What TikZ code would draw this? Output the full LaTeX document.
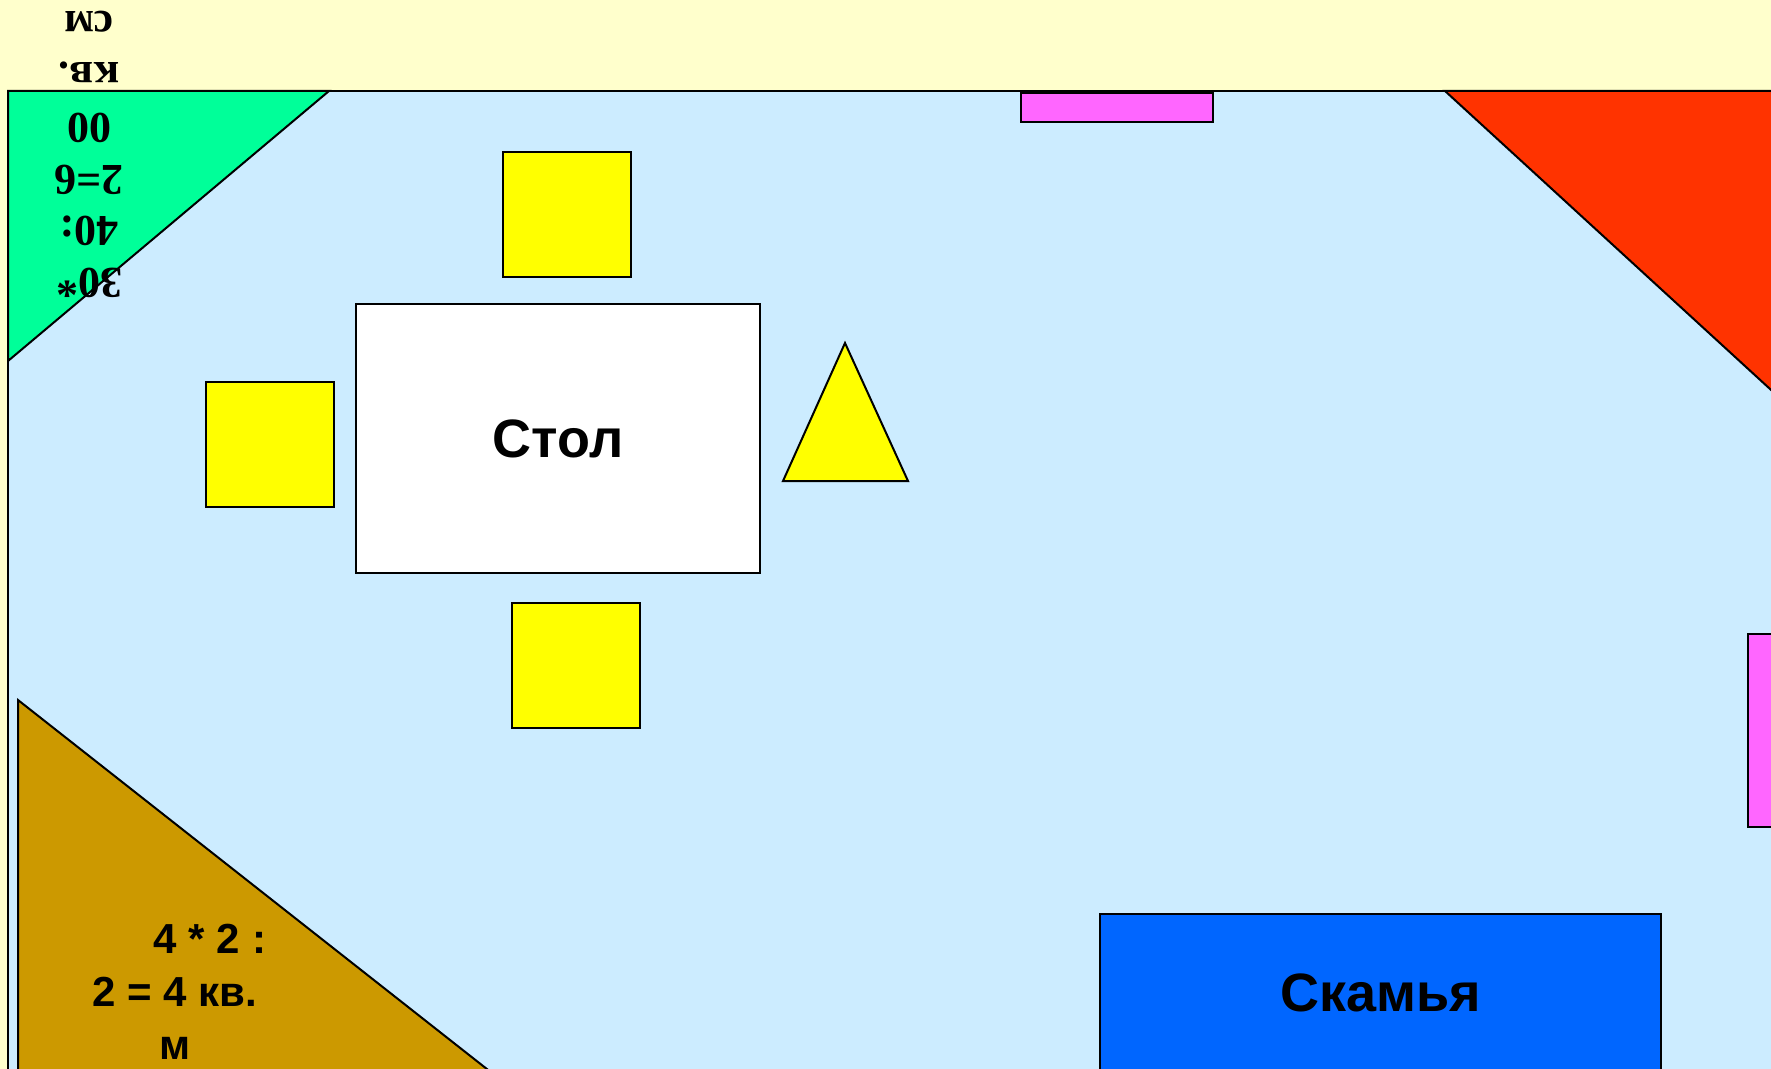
\documentclass[tikz,border=0pt]{standalone}
\usepackage{fontspec}
\setmainfont{Liberation Sans}
\newfontfamily\sansb{Liberation Sans Bold}
\newfontfamily\serifb{Liberation Serif Bold}
\definecolor{bgyellow}{HTML}{FFFFCC}
\definecolor{roomblue}{HTML}{CCECFF}
\definecolor{cgreen}{HTML}{00FF99}
\definecolor{cred}{HTML}{FF3300}
\definecolor{cbrown}{HTML}{CC9900}
\definecolor{cpink}{HTML}{FF66FF}
\definecolor{cyellow}{HTML}{FFFF00}
\definecolor{cbench}{HTML}{0066FF}
\tikzset{
  outline/.style={draw=black, line width=1pt, line join=miter},
  furn/.style={outline, inner sep=0pt, outer sep=0pt, anchor=center},
  chair/.style={furn, fill=cyellow, minimum width=64pt, minimum height=62.5pt},
}
\begin{document}
\begin{tikzpicture}[x=0.5pt, y=-0.5pt]
\useasboundingbox (0,0) rectangle (1771,1069);
\fill[bgyellow] (0,0) rectangle (1771,1069);
% room
\path[outline, fill=roomblue] (8,91) rectangle (1810,1110);
% corner triangles
\path[outline, fill=cgreen] (8,91) -- (329,91) -- (8,361) -- cycle;
\path[outline, fill=cred] (1445,91) -- (1830,91) -- (1830,444) -- cycle;
\path[outline, fill=cbrown] (18,700) -- (18,1110) -- (539,1110) -- cycle;
% texts in corners
\node[rotate=180, font=\serifb\fontsize{22}{25.7}\selectfont, align=center, inner sep=0pt] (greentext) at (89,154) {30*\\40:\\2=6\\00\\кв.\\см};
\node[font=\sansb\fontsize{21}{26.5}\selectfont, align=center, inner sep=0pt] (browntext) at (175,992) {\hspace*{35pt}4 * 2 :\\2 = 4 кв.\\м};
% furniture
\node[furn, fill=white, minimum width=202pt, minimum height=134.5pt, font=\sansb\fontsize{27}{32}\selectfont] (table) at (558,438.5) {Стол};
\node[chair] (chairtop) at (566.5,214.5) {};
\node[chair] (chairleft) at (270,444.5) {};
\node[chair] (chairbottom) at (576,665.5) {};
\path[outline, fill=cyellow] (845,343) -- (908,481) -- (783,481) -- cycle;
\node[furn, fill=cpink, minimum width=96pt, minimum height=14.5pt] (pinktop) at (1117,107.5) {};
\node[furn, fill=cpink, minimum width=30pt, minimum height=96.5pt] (pinkright) at (1778,730.5) {};
\node[furn, fill=cbench, minimum width=280.5pt, minimum height=79pt, font=\sansb\fontsize{27}{32}\selectfont] (bench) at (1380.5,993) {Скамья};
\end{tikzpicture}
\end{document}
